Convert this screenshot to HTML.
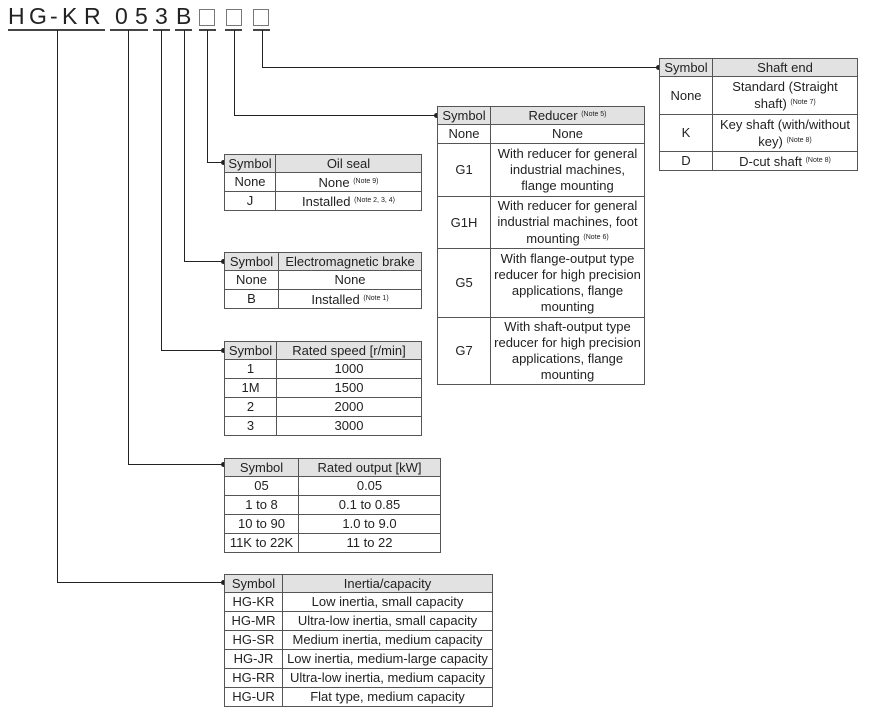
<!DOCTYPE html>
<html><head><meta charset="utf-8"><style>
body{margin:0;width:873px;height:715px;background:#fff;position:relative;overflow:hidden;font-family:"Liberation Sans",Arial,sans-serif;color:#222}
table{position:absolute;border-collapse:collapse;font-size:13px;line-height:16px}
td{border:1px solid #555;text-align:center;padding:0 1px;vertical-align:middle}
tr.h td{background:#e2e2e2}
sup{font-size:7px;vertical-align:4px}
.l{position:absolute;background:#222}
.d{position:absolute;width:5px;height:5px;border-radius:50%;background:#222}
.t{position:absolute;font-size:23px;top:4px;line-height:24px;color:#222}
.u{position:absolute;top:29px;height:1.5px;background:#444}
.b{position:absolute;top:9px;width:14px;height:15px;border:1.5px solid #777}
</style></head><body>
<div class="t" style="left:8px">H</div><div class="t" style="left:29px">G</div><div class="t" style="left:50px">-</div><div class="t" style="left:62px">K</div><div class="t" style="left:84px">R</div>
<div class="t" style="left:115px">0</div><div class="t" style="left:135px">5</div>
<div class="t" style="left:155px">3</div>
<div class="t" style="left:176px">B</div>
<div class="b" style="left:199px"></div><div class="b" style="left:226px"></div><div class="b" style="left:253px"></div>
<div class="u" style="left:8px;width:97px"></div><div class="u" style="left:110px;width:38px"></div><div class="u" style="left:153px;width:17px"></div><div class="u" style="left:175px;width:17px"></div><div class="u" style="left:199px;width:17px"></div><div class="u" style="left:225px;width:17px"></div><div class="u" style="left:253px;width:17px"></div>

<div class="l" style="left:57px;top:30px;width:1px;height:552px"></div><div class="l" style="left:57px;top:582px;width:167px;height:1px"></div><div class="d" style="left:221px;top:580px"></div>
<div class="l" style="left:128px;top:30px;width:1px;height:434px"></div><div class="l" style="left:128px;top:464px;width:96px;height:1px"></div><div class="d" style="left:221px;top:462px"></div>
<div class="l" style="left:161px;top:30px;width:1px;height:320px"></div><div class="l" style="left:161px;top:350px;width:63px;height:1px"></div><div class="d" style="left:221px;top:348px"></div>
<div class="l" style="left:184px;top:30px;width:1px;height:231px"></div><div class="l" style="left:184px;top:261px;width:40px;height:1px"></div><div class="d" style="left:221px;top:259px"></div>
<div class="l" style="left:207px;top:30px;width:1px;height:132px"></div><div class="l" style="left:207px;top:162px;width:17px;height:1px"></div><div class="d" style="left:221px;top:160px"></div>
<div class="l" style="left:234px;top:30px;width:1px;height:85px"></div><div class="l" style="left:234px;top:115px;width:203px;height:1px"></div><div class="d" style="left:434px;top:113px"></div>
<div class="l" style="left:262px;top:30px;width:1px;height:37px"></div><div class="l" style="left:262px;top:67px;width:397px;height:1px"></div><div class="d" style="left:656px;top:65px"></div>

<table style="left:659px;top:58px;width:199px">
<tr class="h" style="height:18px"><td style="width:50px">Symbol</td><td>Shaft end</td></tr>
<tr style="height:38px"><td>None</td><td>Standard (Straight<br>shaft) <sup>(Note 7)</sup></td></tr>
<tr style="height:37px"><td>K</td><td>Key shaft (with/without<br>key) <sup>(Note 8)</sup></td></tr>
<tr style="height:19px"><td>D</td><td>D-cut shaft <sup>(Note 8)</sup></td></tr></table>

<table style="left:437px;top:106px;width:208px">
<tr class="h" style="height:18px"><td style="width:50px">Symbol</td><td>Reducer <sup>(Note 5)</sup></td></tr>
<tr style="height:19px"><td>None</td><td>None</td></tr>
<tr style="height:53px"><td>G1</td><td>With reducer for general<br>industrial machines,<br>flange mounting</td></tr>
<tr style="height:52px"><td>G1H</td><td>With reducer for general<br>industrial machines, foot<br>mounting <sup>(Note 6)</sup></td></tr>
<tr style="height:69px"><td>G5</td><td>With flange-output type<br>reducer for high precision<br>applications, flange<br>mounting</td></tr>
<tr style="height:67px"><td>G7</td><td>With shaft-output type<br>reducer for high precision<br>applications, flange<br>mounting</td></tr></table>

<table style="left:224px;top:154px;width:198px">
<tr class="h" style="height:18px"><td style="width:48px">Symbol</td><td>Oil seal</td></tr>
<tr style="height:19px"><td>None</td><td>None <sup>(Note 9)</sup></td></tr>
<tr style="height:19px"><td>J</td><td>Installed <sup>(Note 2, 3, 4)</sup></td></tr></table>

<table style="left:224px;top:252px;width:198px">
<tr class="h" style="height:18px"><td style="width:51px">Symbol</td><td>Electromagnetic brake</td></tr>
<tr style="height:19px"><td>None</td><td>None</td></tr>
<tr style="height:19px"><td>B</td><td>Installed <sup>(Note 1)</sup></td></tr></table>

<table style="left:224px;top:341px;width:198px">
<tr class="h" style="height:18px"><td style="width:49px">Symbol</td><td>Rated speed [r/min]</td></tr>
<tr style="height:19px"><td>1</td><td>1000</td></tr>
<tr style="height:19px"><td>1M</td><td>1500</td></tr>
<tr style="height:19px"><td>2</td><td>2000</td></tr>
<tr style="height:19px"><td>3</td><td>3000</td></tr></table>

<table style="left:224px;top:458px;width:217px">
<tr class="h" style="height:18px"><td style="width:71px">Symbol</td><td>Rated output [kW]</td></tr>
<tr style="height:19px"><td>05</td><td>0.05</td></tr>
<tr style="height:19px"><td>1 to 8</td><td>0.1 to 0.85</td></tr>
<tr style="height:19px"><td>10 to 90</td><td>1.0 to 9.0</td></tr>
<tr style="height:19px"><td>11K to 22K</td><td>11 to 22</td></tr></table>

<table style="left:224px;top:574px;width:269px">
<tr class="h" style="height:18px"><td style="width:55px">Symbol</td><td>Inertia/capacity</td></tr>
<tr style="height:19px"><td>HG-KR</td><td>Low inertia, small capacity</td></tr>
<tr style="height:19px"><td>HG-MR</td><td>Ultra-low inertia, small capacity</td></tr>
<tr style="height:19px"><td>HG-SR</td><td>Medium inertia, medium capacity</td></tr>
<tr style="height:19px"><td>HG-JR</td><td style="padding:0">Low inertia, medium-large capacity</td></tr>
<tr style="height:19px"><td>HG-RR</td><td>Ultra-low inertia, medium capacity</td></tr>
<tr style="height:19px"><td>HG-UR</td><td>Flat type, medium capacity</td></tr></table>
</body></html>
